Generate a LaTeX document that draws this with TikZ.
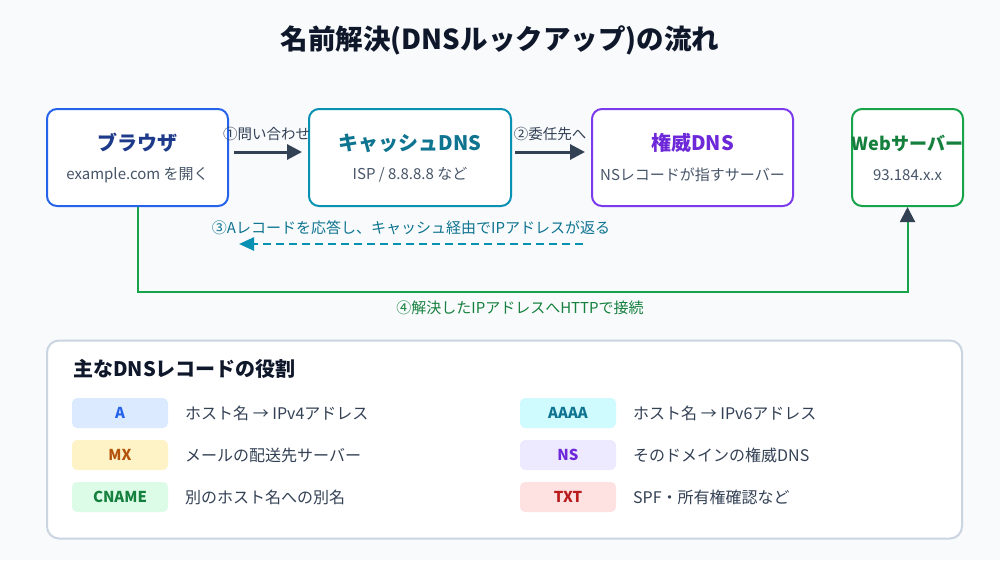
\documentclass[tikz,border=0pt]{standalone}
\usepackage{fontspec}
\setmainfont{Noto Sans CJK JP}
\usetikzlibrary{arrows.meta}

\definecolor{bgpage}{HTML}{F8FAFC}
\definecolor{ink}{HTML}{0F172A}
\definecolor{slate}{HTML}{334155}
\definecolor{muted}{HTML}{475569}
\definecolor{panelline}{HTML}{CBD5E1}
\definecolor{bluebd}{HTML}{2563EB}
\definecolor{bluetx}{HTML}{1E3A8A}
\definecolor{tealbd}{HTML}{0891B2}
\definecolor{tealtx}{HTML}{0E7490}
\definecolor{violetbd}{HTML}{7C3AED}
\definecolor{violettx}{HTML}{6D28D9}
\definecolor{greenbd}{HTML}{16A34A}
\definecolor{greentx}{HTML}{15803D}
\definecolor{pillblue}{HTML}{DBEAFE}
\definecolor{pillamber}{HTML}{FEF3C7}
\definecolor{ambertx}{HTML}{B45309}
\definecolor{pillgreen}{HTML}{DCFCE7}
\definecolor{pillcyan}{HTML}{CFFAFE}
\definecolor{pillviolet}{HTML}{EDE9FE}
\definecolor{pillred}{HTML}{FEE2E2}
\definecolor{redtx}{HTML}{B91C1C}

\tikzset{
  flowbox/.style={draw, line width=2pt, rounded corners=10pt, fill=white,
    minimum height=97pt, inner sep=0pt},
  boxtitle/.style={font=\fontsize{20}{24}\selectfont\bfseries},
  boxsub/.style={font=\fontsize{15}{18}\selectfont, text=muted},
  steplabel/.style={font=\fontsize{14.5}{17}\selectfont, text=slate},
  pill/.style={rounded corners=5pt, minimum width=96pt, minimum height=30pt,
    inner sep=0pt, font=\fontsize{15}{18}\selectfont\bfseries},
  pilltext/.style={anchor=west, inner sep=0pt, font=\fontsize{16}{19}\selectfont, text=slate},
  flowarrow/.style={line width=3pt, draw=slate,
    -{Triangle[length=15pt,width=15pt]}},
}

\begin{document}
\begin{tikzpicture}[x=1pt,y=-1pt]
		%%%%% START %%%%%
		\useasboundingbox (0,0) rectangle (1000,560);
		\fill[bgpage] (0,0) rectangle (1000,560);
		
		\node[font=\fontsize{27.5}{32}\selectfont\bfseries, text=ink] (title) at (500,40) {名前解決(DNSルックアップ)の流れ};
		
		% flow boxes
		\node[flowbox, draw=bluebd, minimum width=181pt] (browser) at (137.5,157.5) {};
		\node[boxtitle, text=bluetx] (browser title) at (137.5,143) {ブラウザ};
		\node[boxsub] (browser sub) at (137.5,175) {example.com を開く};
		
		\node[flowbox, draw=tealbd, minimum width=202pt] (cache) at (410,157.5) {};
		\node[boxtitle, text=tealtx] (cache title) at (410,143) {キャッシュDNS};
		\node[boxsub] (cache sub) at (410,175) {ISP / 8.8.8.8 など};
		
		\node[flowbox, draw=violetbd, minimum width=201pt] (auth) at (692.5,157.5) {};
		\node[boxtitle, text=violettx] (auth title) at (692.5,143) {権威DNS};
		\node[boxsub] (auth sub) at (692.5,175) {NSレコードが指すサーバー};
		
		\node[flowbox, draw=greenbd, minimum width=111pt] (web) at (907.5,157.5) {};
		\node[boxtitle, font=\fontsize{18}{22}\selectfont\bfseries, text=greentx] (web title) at (907.5,143) {Webサーバー};
		\node[boxsub] (web sub) at (907.5,175) {93.184.x.x};
		
		% query and delegation
		\draw[flowarrow, shorten <=5pt, shorten >=6pt] ([yshift=5.5pt]browser.east) -- ([yshift=5.5pt]cache.west);
		\node[steplabel] (ask label) at (266.5,134) {①問い合わせ};
		\draw[flowarrow, shorten <=3pt, shorten >=6pt] ([yshift=5.5pt]cache.east) -- ([yshift=5.5pt]auth.west);
		\node[steplabel] (delegate label) at (550,134) {②委任先へ};
		
		% answer back through the cache
		\coordinate (answer start) at (583,244);
		\coordinate (answer end) at (239,244);
		\draw[line width=2.5pt, draw=tealbd, dash pattern=on 8pt off 5pt,
		  -{Triangle[length=15pt,width=13pt]}] (answer start) -- (answer end);
		\node[font=\fontsize{15}{18}\selectfont, text=tealtx] (answer label) at (411,228) {③Aレコードを応答し、キャッシュ経由でIPアドレスが返る};
		
		% connect to the web server
		\draw[line width=2pt, draw=greenbd, -{Triangle[length=15pt,width=15pt,color=slate]}]
		  (browser.south) -- (137.5,292) -| (web.south);
		\node[font=\fontsize{15}{18}\selectfont, text=greentx] (connect label) at (520,308) {④解決したIPアドレスへHTTPで接続};
		
		% record table
		\node[draw=panelline, line width=2pt, fill=white, rounded corners=12pt,
		  minimum width=915pt, minimum height=198pt, inner sep=0pt] (panel) at (504.5,439.5) {};
		\node[anchor=west, inner sep=0pt, font=\fontsize{20}{24}\selectfont\bfseries, text=ink] (panel title) at (73,369) {主なDNSレコードの役割};
		
		\node[pill, fill=pillblue, text=bluebd] (rec a) at (120,413) {A};
		\node[pilltext] (rec a text) at (185,413) {ホスト名 → IPv4アドレス};
		\node[pill, fill=pillamber, text=ambertx] (rec mx) at (120,455) {MX};
		\node[pilltext] (rec mx text) at (185,455) {メールの配送先サーバー};
		\node[pill, fill=pillgreen, text=greentx] (rec cname) at (120,497) {CNAME};
		\node[pilltext] (rec cname text) at (185,497) {別のホスト名への別名};
		
		\node[pill, fill=pillcyan, text=tealtx] (rec aaaa) at (568,413) {AAAA};
		\node[pilltext] (rec aaaa text) at (633,413) {ホスト名 → IPv6アドレス};
		\node[pill, fill=pillviolet, text=violettx] (rec ns) at (568,455) {NS};
		\node[pilltext] (rec ns text) at (633,455) {そのドメインの権威DNS};
		\node[pill, fill=pillred, text=redtx] (rec txt) at (568,497) {TXT};
		\node[pilltext] (rec txt text) at (633,497) {SPF・所有権確認など};
		%%%%% END %%%%%
	\end{tikzpicture}
\end{document}
